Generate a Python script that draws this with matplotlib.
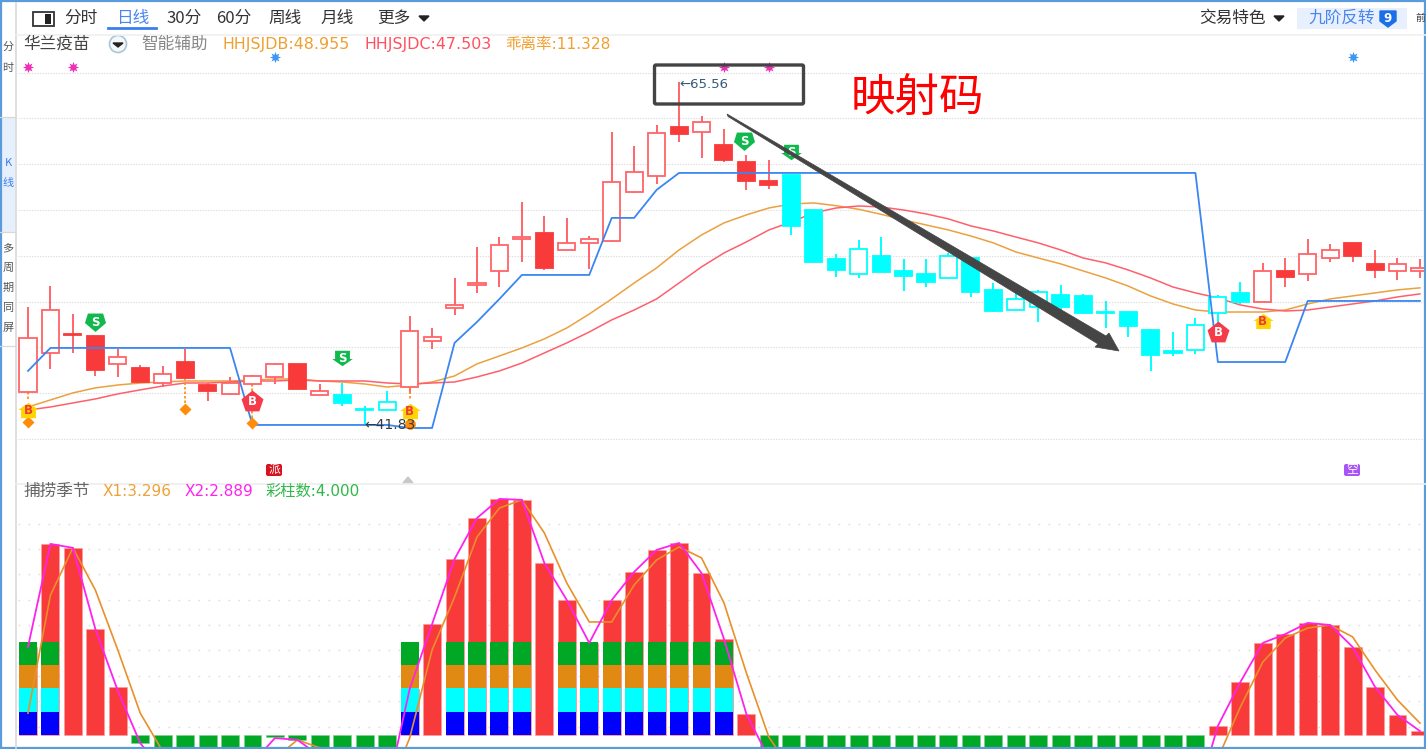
import matplotlib
matplotlib.use("Agg")
import matplotlib.pyplot as plt
from matplotlib.path import Path
from matplotlib.patches import Rectangle, FancyBboxPatch, Polygon, Circle

plt.rcParams['font.family'] = ['Noto Sans CJK SC', 'DejaVu Sans']

# ---------- daily candles (prices) ----------
high = [49.90,51.36,49.41,47.88,46.98,45.87,45.80,46.98,44.61,45.03,45.17,46.00,45.94,44.54,44.61,43.01,44.06,49.28,48.44,51.92,54.08,
        54.77,57.21,56.24,56.10,54.84,62.08,61.11,62.57,65.56,63.20,62.29,60.48,60.13,59.09,56.65,53.59,54.57,54.77,53.24,53.24,53.66,
        53.31,51.57,50.88,51.09,51.43,50.81,50.32,49.55,48.37,48.16,49.14,50.74,51.64,52.97,53.31,54.64,54.29,54.36,53.87,53.31,53.24]
low = [43.92,45.59,46.70,45.10,45.03,44.61,44.33,44.96,43.36,43.78,44.40,44.54,44.20,43.78,43.01,41.69,42.73,43.92,46.98,49.35,50.88,
       51.29,53.03,52.48,53.87,52.55,54.43,57.84,58.46,61.39,60.27,59.99,58.05,58.12,54.91,53.03,51.99,51.92,52.34,51.02,51.29,51.92,
       50.60,49.55,49.69,48.86,49.55,49.41,48.44,47.81,45.45,46.49,46.63,48.51,50.11,50.25,51.29,51.71,53.03,53.03,51.92,51.78,51.92]
body_top = [47.74,49.69,48.02,47.88,46.42,45.66,45.24,46.07,44.47,44.61,45.10,45.94,45.94,44.06,43.78,42.80,43.29,48.23,47.81,50.04,51.57,
            54.22,54.77,55.05,54.36,54.64,58.60,59.30,62.01,62.43,62.78,61.18,59.99,58.67,59.09,56.65,53.24,53.94,53.45,52.41,52.20,53.45,
            53.31,51.09,50.46,50.95,50.74,50.67,49.55,49.55,48.30,46.84,48.65,50.60,50.88,52.41,52.41,53.59,53.87,54.36,52.90,52.90,52.62]
body_bot = [43.99,46.70,47.95,45.52,45.94,44.68,44.61,44.96,44.06,43.85,44.54,45.03,44.20,43.78,43.22,42.73,42.73,44.33,47.54,49.83,51.43,
            52.41,54.64,52.62,53.87,54.36,54.50,57.91,59.02,61.94,62.08,60.13,58.67,58.39,55.54,53.03,52.48,52.20,52.34,52.06,51.64,51.92,
            50.95,49.62,49.69,49.90,49.90,49.48,49.48,48.58,46.56,46.70,46.91,49.48,50.25,50.25,51.99,52.20,53.31,53.45,52.48,52.41,52.41]
# r hollow red, R solid red, c hollow cyan, C solid cyan
kinds = "rrRRrRrRRrrrRrCCcrrrrrrRrrrrrRrRRRCCCcCCCcCCccCCCCCCccCrRrrRRrr"

hhjsjdb = [42.94,43.43,43.92,44.27,44.47,44.61,44.68,44.75,44.75,44.75,44.82,44.89,44.89,44.75,44.68,44.54,44.33,44.47,44.68,45.10,45.94,
           46.49,47.05,47.68,48.44,49.41,50.46,51.57,52.62,53.87,54.91,55.75,56.31,56.79,57.07,57.14,56.95,56.70,56.35,55.96,55.61,55.26,
           54.84,54.36,53.73,53.31,52.90,52.41,51.92,51.36,50.67,50.11,49.69,49.55,49.55,49.55,49.69,50.11,50.46,50.67,50.88,51.09,51.23]
hhjsjdc = [42.73,42.94,43.22,43.50,43.85,44.13,44.40,44.61,44.61,44.68,44.75,44.75,44.82,44.75,44.75,44.75,44.61,44.54,44.61,44.68,45.03,
           45.45,46.00,46.70,47.40,48.16,49.00,49.69,50.46,51.57,52.69,53.66,54.43,55.26,55.82,56.45,56.79,56.93,56.86,56.65,56.38,56.03,
           55.54,55.19,54.77,54.36,53.87,53.31,52.97,52.48,51.92,51.29,50.88,50.53,50.04,49.76,49.62,49.69,49.90,50.11,50.32,50.60,50.81]
support = [45.45] + [47.05]*9 + [41.69]*7 + [41.48]*2 + [47.40,48.86,50.46] + [52.13]*4 + [56.10]*2 + [58.05] + [59.23]*24 + [46.07]*4 + [50.32]*6

price_grid = [66.19,63.06,59.86,56.65,53.45,50.25,47.12,43.92,40.72]

# ---------- lower panel ----------
bars = [3.78,8.2,8.03,4.55,2.06,-0.34,-1,-1,-1,-1,-1,-0.09,-0.21,-1,-1,-1,-1,
        1.97,4.76,7.55,9.31,10.13,10.09,7.38,5.79,3.95,5.79,7.0,7.94,8.24,6.95,4.12,0.9] + [-1]*20 + \
       [0.39,2.27,3.95,4.33,4.81,4.72,3.78,2.06,0.86,0.17]
stacked = [0,1,17,19,20,21,22,24,25,26,27,28,29,30,31]
stack_colors = ['#0000ff', '#00ffff', '#e08a14', '#00a826']
x2 = [3.78,8.2,8.03,4.55,1.9,-0.35,-1.5,-1.5,-1.5,-1.5,-1.2,-0.13,-0.21,-0.9,-1.5,-2,-2.4,
      1.97,4.76,7.55,9.31,10.13,10.09,7.38,5.79,3.95,5.79,7.0,7.94,8.24,6.95,4.12,0.9,-1.0] + [-2]*18 + \
     [-2.9,0.39,2.27,3.95,4.33,4.81,4.72,3.78,2.06,0.86,0.17]
x1 = [0.94,6.0,8.03,6.22,3.65,0.94,-0.7,-1.5,-1.5,-1.5,-1.5,-1.0,-0.21,-0.55,-1.5,-2,-2.5,
      -0.13,3.65,5.92,8.5,9.74,10.09,8.67,6.52,4.85,4.85,6.44,7.51,8.07,7.6,5.67,2.66,-0.09,-1.5] + [-2.5]*17 + \
     [-4.0,-1.0,1.2,3.13,4.16,4.59,4.72,4.21,2.79,1.5,0.51]
ind_grid = [9.06,7.98,6.91,5.79,4.72,3.65,2.53,1.46,0.34]

W, H = 1426, 749
fig = plt.figure(figsize=(W/100, H/100), dpi=100, facecolor='white')

def px_axes(x0, x1_, y0, y1_, **kw):
    return fig.add_axes([x0/W, 1-y1_/H, (x1_-x0)/W, (y1_-y0)/H], **kw)

XLIM = (-0.445, 62.27)
ax = px_axes(18, W, 36, 483)
ax.set_xlim(*XLIM)
ax.set_ylim(37.65, 68.76)
sub = px_axes(18, W, 484, 749)
sub.set_xlim(*XLIM)
sub.set_ylim(-0.60, 10.77)
for a, g in ((ax, price_grid), (sub, ind_grid)):
    for s in a.spines.values():
        s.set_visible(False)
    a.set_xticks([])
    a.set_yticks(g)
    a.tick_params(length=0, labelleft=False)
    a.set_axisbelow(True)
ax.grid(axis='y', color='#dedede', lw=0.8, ls=(0, (1.2, 1.2)))
sub.grid(axis='y', color='#dedede', lw=1.0, ls=(0, (1.2, 6)))

xs = list(range(len(high)))
RED, REDL, CY = '#f93a3a', '#ff6468', '#00ffff'
for i in xs:
    k = kinds[i]
    col = REDL if k in 'rR' else CY
    ax.vlines(i, low[i], high[i], color=col, lw=1.4, zorder=3)
    face = 'white' if k in 'rc' else (RED if k == 'R' else CY)
    ax.bar(i, body_top[i]-body_bot[i], bottom=body_bot[i], width=0.76, facecolor=face,
           edgecolor=(RED if k == 'R' else col), linewidth=1.3, zorder=4)
ax.plot(xs, hhjsjdb, color='#eba13f', lw=1.1, zorder=2)
ax.plot(xs, hhjsjdc, color='#ff5f6d', lw=1.1, zorder=2)
ax.plot(xs, support, color='#3a86f2', lw=1.3, zorder=5)

# signal markers
pent_up = Path([(0,1),(1,.2),(.62,-.9),(-.62,-.9),(-1,.2),(0,1)], closed=True)
pent_dn = Path([(-.72,.85),(.72,.85),(1,-.05),(0,-.9),(-1,-.05),(-.72,.85)], closed=True)
arr_dn = Path([(-.72,.75),(.72,.75),(.72,-.05),(1,-.05),(0,-.75),(-1,-.05),(-.72,-.05),(-.72,.75)], closed=True)
arr_up = Path([(-.72,-.75),(.72,-.75),(.72,.05),(1,.05),(0,.75),(-1,.05),(-.72,.05),(-.72,-.75)], closed=True)
diam = Path([(0,1),(1,0),(0,-1),(-1,0),(0,1)], closed=True)
GRN, GOLD, ORG = '#10b84e', '#ffd400', '#ff8c0a'

signals = [(3, 48.86, pent_dn, GRN, 'S', 'white', 230),
           (14, 46.35, arr_dn, GRN, 'S', 'white', 220),
           (31.9, 61.45, pent_dn, GRN, 'S', 'white', 230),
           (34, 60.70, arr_dn, GRN, 'S', 'white', 220),
           (0, 42.73, arr_up, GOLD, 'B', '#f03a3a', 220),
           (17, 42.66, arr_up, GOLD, 'B', '#f03a3a', 220),
           (55, 48.95, arr_up, GOLD, 'B', '#f03a3a', 210),
           (10, 43.36, pent_up, '#f53a4a', 'B', 'white', 250),
           (53, 48.16, pent_up, '#f53a4a', 'B', 'white', 250)]
for x, y, m, c, t, tc, s in signals:
    ax.scatter([x], [y], marker=m, s=s, color=c, linewidths=0, zorder=7)
    ax.text(x, y-0.05, t, color=tc, fontsize=8.5, fontweight='bold', ha='center', va='center',
            family='DejaVu Sans', zorder=8)
for x, y in [(0, 41.90), (7, 42.80), (10, 41.83)]:
    ax.scatter([x], [y], marker=diam, s=75, color=ORG, linewidths=0, zorder=6)
ax.scatter([17], [41.76], s=60, color=ORG, linewidths=0, zorder=6)
for x, y0, y1 in [(0, 43.99, 43.4), (7, 44.96, 42.9), (10, 44.54, 41.9), (17, 44.33, 43.4)]:
    ax.plot([x, x], [y0, y1], color=ORG, lw=1.2, ls=(0, (1.5, 1.2)), zorder=3)

# star markers on top of the chart
ax.scatter([0, 2, 31, 33], [66.61]*4, marker=(8, 1, 0), s=65, color='#ee2fb8', linewidths=0, zorder=3, clip_on=False)
ax.scatter([11, 59], [67.30]*2, marker=(8, 1, 0), s=65, color='#3f96f5', linewidths=0, zorder=3)

# extreme price labels
ax.annotate('←65.56', (29, 65.56), xytext=(0, -1.5), textcoords='offset points', fontsize=9.5,
            family='DejaVu Sans', color='#35597a', va='center', zorder=8)
ax.annotate('←41.83', (15, 41.83), xytext=(0, -1.5), textcoords='offset points', fontsize=10,
            family='DejaVu Sans', color='#333a40', va='center', zorder=6)

# ---------- lower bars ----------
for i, v in enumerate(bars):
    sub.bar(i, v, width=0.8, color=(RED if v > 0 else '#00a826'), edgecolor='#ff9a9a' if v > 0 else '#7fd08f',
            linewidth=0.4, zorder=2)
for i in stacked:
    for j, c in enumerate(stack_colors):
        sub.bar(i, 1, bottom=j, width=0.8, color=c, linewidth=0, zorder=3)
sub.plot(range(len(x1)), x1, color='#e8902a', lw=1.2, zorder=5)
sub.plot(range(len(x2)), x2, color='#ff22ee', lw=1.3, zorder=6)

# ---------- screen chrome, annotations ----------
ov = fig.add_axes([0, 0, 1, 1], zorder=20, facecolor='none')
ov.set_xlim(0, W)
ov.set_ylim(H, 0)
ov.axis('off')

def T(x, y, s, c='#333333', fs=12, ha='left', **kw):
    return ov.text(x, y, s, color=c, fontsize=fs, ha=ha, va='center', **kw)

ov.add_patch(Rectangle((0, 117), 15, 115, facecolor='#e6effc', edgecolor='none'))
ov.plot([15.5, 15.5], [3, 748], color='#d8d8d8', lw=1.2)
for yy in (117, 232, 346):
    ov.plot([0, 15], [yy, yy], color='#d8d8d8', lw=0.9)
ov.plot([16, W], [35, 35], color='#f0f0f0', lw=1.2)
ov.plot([16, W], [483.5, 483.5], color='#eeeeee', lw=1.2)

for y, s, c in [(47, '分', '#555555'), (68, '时', '#555555'), (163, 'K', '#3b7df0'), (183, '线', '#3b7df0'),
                (248, '多', '#555555'), (268, '周', '#555555'), (288, '期', '#555555'), (308, '同', '#555555'), (328, '屏', '#555555')]:
    T(8, y, s, c, 8, ha='center')

ov.add_patch(Rectangle((33, 12), 21, 14, facecolor='white', edgecolor='#333333', lw=1.3))
ov.add_patch(Rectangle((45, 14), 6, 10, facecolor='#222222', edgecolor='none'))
for x, s in [(64, '分时'), (166, '30分'), (216, '60分'), (268, '周线'), (320, '月线'), (377, '更多')]:
    T(x, 18, s)
T(116, 18, '日线', '#4a86f0')
ov.plot([108, 156], [28, 28], color='#3b7df0', lw=2)
ov.add_patch(Polygon([(419, 16), (429, 16), (424, 21)], color='#222222'))
T(1199, 18, '交易特色')
ov.add_patch(Polygon([(1274, 16), (1284, 16), (1279, 21)], color='#222222'))
ov.add_patch(Rectangle((1297, 8), 110, 21, facecolor='#e8f0fd', edgecolor='none'))
T(1308, 18, '九阶反转', '#4a86f0')
ov.add_patch(Polygon([(1380, 11), (1396, 11), (1396, 21), (1388, 27), (1380, 21)], color='#1a6fe8'))
T(1388, 18, '9', 'white', 8.5, ha='center', family='DejaVu Sans', fontweight='bold')
T(1415, 18, '前', '#333333', 7)

T(23, 44, '华兰疫苗', '#444444')
ov.add_patch(Circle((118, 44), 8.5, facecolor='#f4f8fb', edgecolor='#a9c6d6', lw=1.2))
ov.add_patch(Polygon([(113, 43), (123, 43), (118, 47)], color='#222222'))
T(141, 44, '智能辅助', '#888888')
LAT = dict(family=['DejaVu Sans', 'Noto Sans CJK SC'])
T(222, 44, 'HHJSJDB:48.955', '#f0a030', 11.4, **LAT)
T(364, 44, 'HHJSJDC:47.503', '#ff5060', 11.4, **LAT)
T(505, 44, '乖离率:11.328', '#f0a030', 11.2, **LAT)
T(23, 491, '捕捞季节', '#666666')
T(103, 491, 'X1:3.296', '#eda23a', 11, **LAT)
T(185, 491, 'X2:2.889', '#ff22ee', 11, **LAT)
T(266, 491, '彩柱数:4.000', '#2eb84a', 11, **LAT)

ov.add_patch(FancyBboxPatch((266, 464), 16, 12, boxstyle='round,pad=0,rounding_size=2', facecolor='#d9121f', edgecolor='none'))
T(274, 470, '派', 'white', 8.5, ha='center')
ov.add_patch(FancyBboxPatch((1344, 464), 16, 12, boxstyle='round,pad=0,rounding_size=2', facecolor='#a855f7', edgecolor='none'))
T(1352, 470, '空', 'white', 8.5, ha='center')
ov.add_patch(Polygon([(403, 483), (413, 483), (408, 477)], color='#c8c8c8'))

ov.add_patch(FancyBboxPatch((654.5, 65), 149, 39, boxstyle='round,pad=0,rounding_size=1.5',
                            facecolor='none', edgecolor='#444444', lw=2.4))
ov.add_patch(Polygon([(727, 114), (728, 116.5), (1098, 344), (1095, 347), (1119, 351), (1109, 333), (1106, 336)],
                     closed=True, facecolor='#454545', edgecolor='#454545', lw=0.5))
T(851, 98, '映射码', '#ff0000', 32)

ov.add_patch(Rectangle((0.8, 0.8), W-1.6, H-1.6, facecolor='none', edgecolor='#5a9bdc', lw=1.6))

fig.savefig('out.png', dpi=100)
